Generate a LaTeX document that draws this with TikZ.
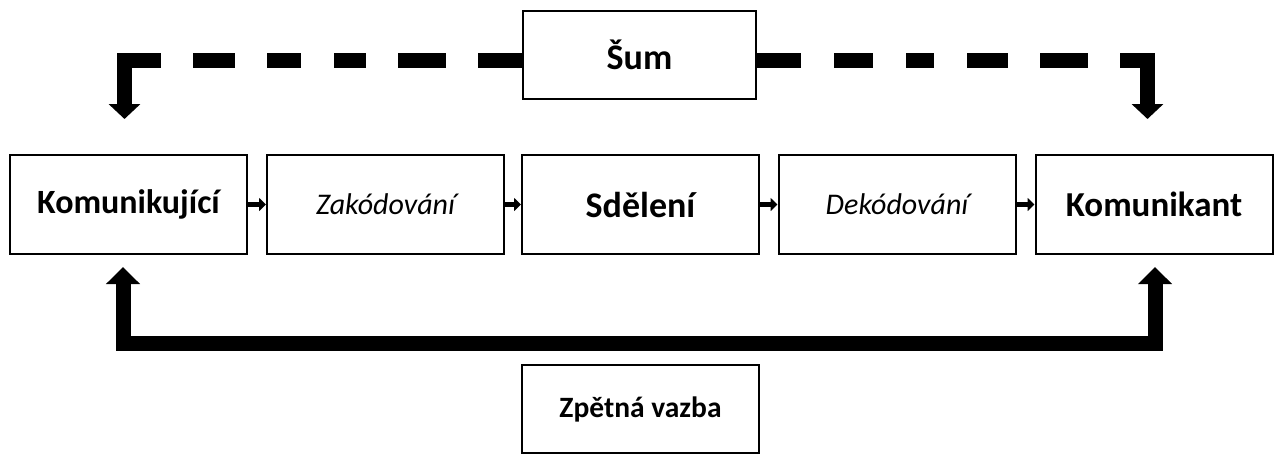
\documentclass[tikz,border=0pt]{standalone}
\usepackage{fontspec}
\setmainfont{Carlito}
\usetikzlibrary{arrows.meta}
\begin{document}
\begin{tikzpicture}[x=1pt,y=-1pt,
  stagebox/.style={draw,line width=2pt,minimum width=237pt,minimum height=99pt,inner sep=0pt,anchor=center},
  boldtxt/.style={font=\fontsize{34}{40}\selectfont\bfseries},
  itxt/.style={font=\fontsize{30}{36}\selectfont\itshape},
  smallarr/.style={line width=5pt,-{Triangle[length=7pt,width=13pt]}},
  bigarr/.style={line width=15pt,line join=miter,-{Triangle[length=15pt,width=31pt]}},
  fbarr/.style={line width=15pt,line join=miter,{Triangle[length=17pt,width=33pt]}-{Triangle[length=17pt,width=33pt]}}
]
\useasboundingbox (0,0) rectangle (1280,456);
\fill[white] (0,0) rectangle (1280,456);
\node[stagebox,boldtxt] (kom) at (128.5,204.5) {Komunikující};
\node[stagebox,itxt] (zak) at (385.5,204.5) {Zakódování};
\node[stagebox,boldtxt,font=\fontsize{36}{42}\selectfont\bfseries] (sde) at (640.5,204.5) {Sdělení};
\node[stagebox,itxt] (dek) at (897,204.5) {Dekódování};
\node[stagebox,boldtxt,font=\fontsize{35}{41}\selectfont\bfseries] (kmt) at (1154,204.5) {Komunikant};
\node[draw,line width=2.5pt,minimum width=233pt,minimum height=88pt,inner sep=0pt,font=\fontsize{36}{42}\selectfont\bfseries] (sum) at (639.5,55) {Šum};
\node[draw,line width=2pt,minimum width=237pt,minimum height=88pt,inner sep=0pt,font=\fontsize{29.5}{35}\selectfont\bfseries] (zv) at (640.5,409) {Zpětná vazba};
\draw[smallarr] (kom.east) -- (zak.west);
\draw[smallarr] (zak.east) -- (sde.west);
\draw[smallarr] (sde.east) -- (dek.west);
\draw[smallarr] (dek.east) -- (kmt.west);
% noise arrows
\coordinate (lc) at (124.5,60);
\coordinate (lt) at (124.5,119);
\coordinate (rc) at (1147.5,60);
\coordinate (rt) at (1147.5,119);
\draw[bigarr,dash pattern=on 44pt off 32pt on 48pt off 32pt on 32pt off 33pt on 34pt off 32pt on 42pt off 32pt on 300pt]
  (sum.west |- lc) -- (lc) -- (lt);
\draw[bigarr,dash pattern=on 44pt off 33pt on 39pt off 33pt on 28pt off 33pt on 41pt off 32pt on 48pt off 32pt on 300pt]
  (sum.east |- rc) -- (rc) -- (rt);
% feedback
\coordinate (fl) at (123,267);
\coordinate (fr) at (1155,267);
\draw[fbarr] (fl) -- (123,343) -- (1155,343) -- (fr);
\end{tikzpicture}
\end{document}
